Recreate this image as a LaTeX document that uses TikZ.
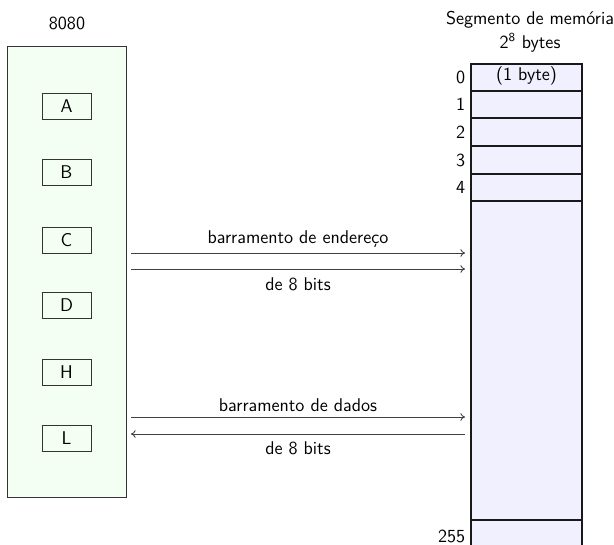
\documentclass[tikz,border=0pt]{standalone}
\usetikzlibrary{arrows.meta}
\begin{document}
\begin{tikzpicture}[x=0.65pt,y=-0.65pt,font=\sffamily\fontsize{12}{14}\selectfont,
  reg/.style={draw=black!80,line width=0.6pt,minimum width=49*0.65pt,minimum height=26*0.65pt,inner sep=0pt},
  cpu/.style={draw=black!80,line width=0.5pt,fill=green!5},
  mem/.style={draw=black!90,line width=0.9pt,fill=blue!6},
  bus/.style={draw=black!75,line width=0.6pt,-{To[length=3pt,width=5pt]}},
  lbl/.style={inner sep=1pt},
  idx/.style={anchor=east,inner sep=1pt}]
\useasboundingbox (0,0) rectangle (614,545);
\clip (0,0) rectangle (614,545);
% CPU
\node (t8080) at (67,23) {8080};
\draw[cpu] (7,46) rectangle (126,497);
\foreach \n/\y in {A/106,B/172,C/240,D/305,H/372,L/438}
  \node[reg] (r\n) at (66.5,\y) {\n};
% Memory
\node (tmem) at (530,20) {Segmento de memória};
\node (tbytes) at (530,43) {2\textsuperscript{8} bytes};
\draw[mem] (471,64) rectangle (582,560);
\foreach \y in {91,118,146,174,201,520}
  \draw[black!90,line width=0.9pt] (471,\y) -- (582,\y);
\node (b0) at (526.5,76) {(1 byte)};
\foreach \i/\y in {0/77,1/104,2/132,3/160,4/187,255/536}
  \node[idx] (i\i) at (467,\y) {\i};
% buses
\coordinate (aL1) at (131,253); \coordinate (aR1) at (465,253);
\coordinate (aL2) at (131,269); \coordinate (aR2) at (465,269);
\coordinate (dL1) at (131,417); \coordinate (dR1) at (465,417);
\coordinate (dL2) at (131,434); \coordinate (dR2) at (465,434);
\draw[bus] (aL1) -- (aR1);
\draw[bus] (aL2) -- (aR2);
\draw[bus] (dL1) -- (dR1);
\draw[bus] (dR2) -- (dL2);
\node[lbl] (la1) at (298,239) {barramento de endereço};
\node[lbl] (la2) at (298,284) {de 8 bits};
\node[lbl] (ld1) at (298,405) {barramento de dados};
\node[lbl] (ld2) at (298,448) {de 8 bits};
\end{tikzpicture}
\end{document}
